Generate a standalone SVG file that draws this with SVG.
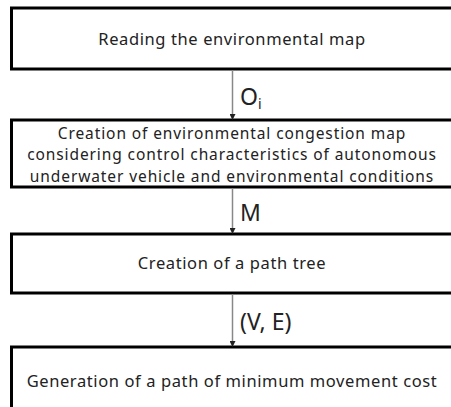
<svg xmlns="http://www.w3.org/2000/svg" width="451" height="407" viewBox="0 0 451 407">
<defs>
<marker id="ah" markerWidth="6" markerHeight="6" refX="5" refY="3" orient="auto" markerUnits="userSpaceOnUse">
<path d="M0,0 L6,3 L0,6 Z" fill="#222"/>
</marker>
<style>
.box{fill:#fff;stroke:#000;stroke-width:3}
.t{font-family:"Noto Sans","Noto Sans CJK KR",sans-serif;font-size:16.5px;letter-spacing:0.6px;fill:#222;text-anchor:middle}
.t2{font-size:15.5px;letter-spacing:0.9px}
.lbl{font-family:"Noto Sans","Noto Sans CJK KR",sans-serif;font-size:23px;fill:#222}
.c{stroke:#888;stroke-width:1.5;fill:none;marker-end:url(#ah)}
</style>
</defs>
<rect width="451" height="407" fill="#fff"/>
<g id="n1">
<rect class="box" x="11.5" y="8" width="441" height="61"/>
<text class="t" x="232" y="45">Reading the environmental map</text>
</g>
<g id="n2">
<rect class="box" x="11.5" y="120" width="441" height="67"/>
<text class="t t2" x="232" y="138.5">Creation of environmental congestion map</text>
<text class="t t2" x="232" y="160">considering control characteristics of autonomous</text>
<text class="t t2" x="232" y="181.5">underwater vehicle and environmental conditions</text>
</g>
<g id="n3">
<rect class="box" x="11.5" y="234" width="441" height="59"/>
<text class="t" x="232" y="269">Creation of a path tree</text>
</g>
<g id="n4">
<rect class="box" x="11.5" y="347" width="441" height="70"/>
<text class="t" x="232" y="387">Generation of a path of minimum movement cost</text>
</g>
<g id="connectors">
<line class="c" x1="232.5" y1="70" x2="232.5" y2="119"/>
<line class="c" x1="232.5" y1="188" x2="232.5" y2="233"/>
<line class="c" x1="232.5" y1="294" x2="232.5" y2="346"/>
<text class="lbl" x="240" y="105">O<tspan font-size="14" dy="4">i</tspan></text>
<text class="lbl" x="240" y="221">M</text>
<text class="lbl" x="240" y="330">(V, E)</text>
</g>
</svg>
